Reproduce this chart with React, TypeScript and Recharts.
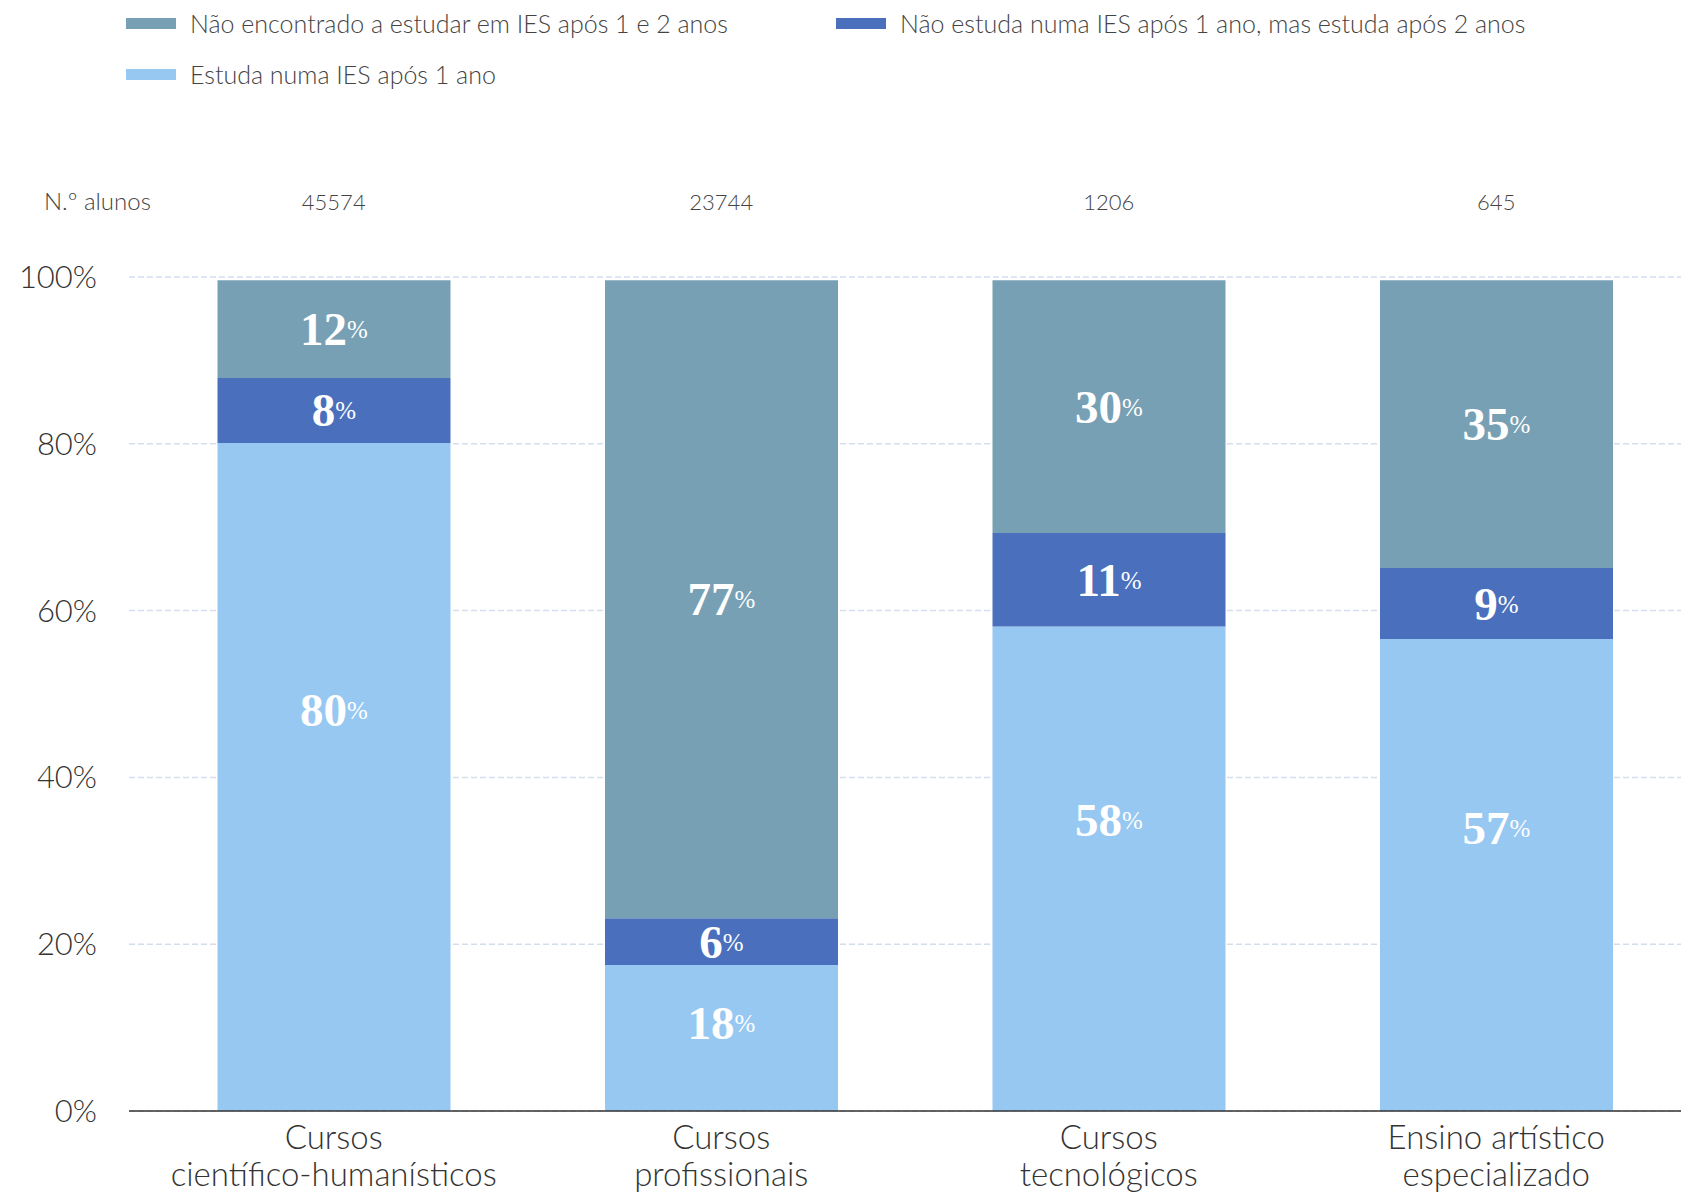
import React from 'react';
import { BarChart, Bar, XAxis, YAxis, CartesianGrid, LabelList } from 'recharts';

const categories = [
  'Cursos\ncientífico-humanísticos',
  'Cursos\nprofissionais',
  'Cursos\ntecnológicos',
  'Ensino artístico\nespecializado',
];
const studentCounts = [45574, 23744, 1206, 645];
const studiesAfter1Year = [80.1, 17.5, 58.1, 56.6];
const studiesAfter2Years = [7.8, 5.6, 11.2, 8.5];
const notFound = [11.7, 76.5, 30.3, 34.5];
const yTicks = [0, 20, 40, 60, 80, 100];

const seriesKeys = ['after1', 'after2', 'notFound'];
const seriesNames = [
  'Estuda numa IES após 1 ano',
  'Não estuda numa IES após 1 ano, mas estuda após 2 anos',
  'Não encontrado a estudar em IES após 1 e 2 anos',
];
const seriesColors = ['#97C8F2', '#4A6FBC', '#78A0B4'];
const labelFractions = [0.4, 0.5, 0.5];
const legendOrder = [2, 1, 0];

const data = categories.map((c, i) => ({
  category: c,
  count: studentCounts[i],
  after1: studiesAfter1Year[i],
  after2: studiesAfter2Years[i],
  notFound: notFound[i],
}));

const SANS = "Lato, 'Open Sans', sans-serif";
const SERIF = "'Liberation Serif', 'DejaVu Serif', serif";

const makeLabel = (frac: number) => (props: any) => {
  const { x, y, width, height, value } = props;
  const cx = Number(x) + Number(width) / 2;
  const cy = Number(y) + Number(height) * frac;
  return (
    <text x={cx} y={cy} textAnchor="middle" dominantBaseline="central" fill="#ffffff">
      <tspan fontFamily={SERIF} fontWeight={700} fontSize={47}>{Math.round(Number(value))}</tspan>
      <tspan fontFamily={SERIF} fontWeight={400} fontSize={25}>%</tspan>
    </text>
  );
};

const CategoryTick = (props: any) => {
  const { x, y, payload } = props;
  const lines = String(payload.value).split('\n');
  return (
    <text x={x} y={y} textAnchor="middle" fill="#333" fontSize={33} fontFamily={SANS} fontWeight={300}>
      {lines.map((l, i) => (
        <tspan key={i} x={x} dy={i === 0 ? 38 : 37}>{l}</tspan>
      ))}
    </text>
  );
};

const CountTick = (props: any) => {
  const { x, y, index } = props;
  return (
    <text x={x} y={Number(y) - 76} textAnchor="middle" dominantBaseline="central" fill="#444" fontSize={22} fontFamily={SANS} fontWeight={300}>
      {studentCounts[index]}
    </text>
  );
};

const Legend = () => (
  <div
    style={{
      position: 'absolute',
      left: 126,
      top: 6,
      display: 'grid',
      gridTemplateColumns: '710px auto',
      rowGap: 17,
      fontFamily: SANS,
      fontWeight: 300,
      fontSize: 25,
      color: '#444',
    }}
  >
    {legendOrder.map((si) => (
      <div key={si} style={{ display: 'flex', alignItems: 'center', height: 34 }}>
        <div style={{ width: 50, height: 11, background: seriesColors[si], marginRight: 14 }} />
        <span style={{ whiteSpace: 'nowrap' }}>{seriesNames[si]}</span>
      </div>
    ))}
  </div>
);

export default function App() {
  return (
    <div style={{ position: 'absolute', left: 0, top: 0, width: 1681, height: 1193, overflow: 'hidden', background: '#fff' }}>
      <Legend />
      <div
        style={{
          position: 'absolute',
          left: 44,
          top: 186,
          fontFamily: SANS,
          fontWeight: 300,
          fontSize: 24,
          color: '#444',
          lineHeight: '30px',
          whiteSpace: 'nowrap',
        }}
      >
        N.º alunos
      </div>
      <BarChart
        width={1700}
        height={1193}
        data={data}
        margin={{ top: 177, right: 10, bottom: 0, left: 0 }}
        barCategoryGap="20%"
      >
        <CartesianGrid vertical={false} stroke="#D5DEEF" strokeDasharray="6 3" strokeWidth={1.5} />
        <XAxis
          xAxisId="top"
          orientation="top"
          dataKey="category"
          height={100}
          axisLine={false}
          tickLine={false}
          tickSize={0}
          tickMargin={0}
          padding={{ left: 11, right: 0 }}
          tick={<CountTick />}
          interval={0}
        />
        <XAxis
          dataKey="category"
          height={82}
          axisLine={{ stroke: '#333', strokeWidth: 1.5 }}
          tickLine={false}
          tickSize={0}
          tickMargin={0}
          padding={{ left: 11, right: 0 }}
          tick={<CategoryTick />}
          interval={0}
        />
        <YAxis
          width={129}
          domain={[0, 100]}
          ticks={yTicks}
          axisLine={false}
          tickLine={false}
          tickSize={0}
          tickMargin={32}
          tickFormatter={(v: number) => `${v}%`}
          tick={{ fontSize: 31, fontFamily: SANS, fontWeight: 300, fill: '#333' }}
        />
        {seriesKeys.map((k, i) => (
          <Bar key={k} dataKey={k} name={seriesNames[i]} stackId="a" fill={seriesColors[i]} isAnimationActive={false}>
            <LabelList dataKey={k} content={makeLabel(labelFractions[i])} />
          </Bar>
        ))}
      </BarChart>
    </div>
  );
}
